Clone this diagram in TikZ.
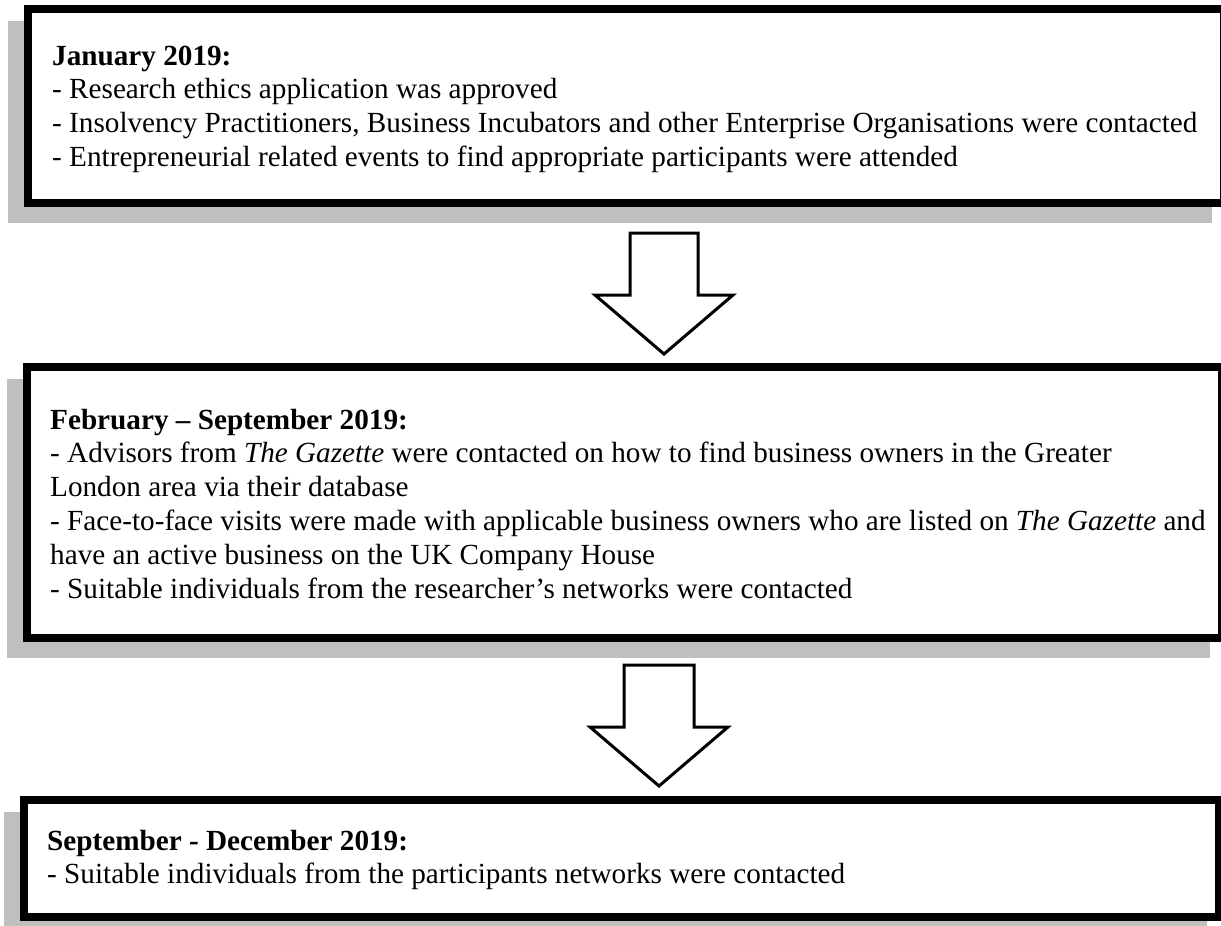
\documentclass[tikz,border=0pt]{standalone}
\usepackage{fontspec}
\setmainfont{Liberation Serif}
\usetikzlibrary{backgrounds}
\begin{document}
\begin{tikzpicture}[x=1pt,y=-1pt,
  stage/.style={draw, line width=8pt, fill=white, outer sep=4pt, inner sep=0pt},
  shade/.style={fill=black!25},
  % the base anchor of a multi-line node sits on its last line
  stagetext/.style={anchor=base west, align=left, inner sep=0pt,
    font=\fontsize{29.2}{33.8}\selectfont},
  blockarrow/.style={draw, line width=3pt, fill=white, miter limit=10}]
\useasboundingbox (0,0) rectangle (1221,926);

% stage boxes
\node[stage, minimum width=1196pt, minimum height=194pt] (b1) at (626,106) {};
\node[stage, minimum width=1195pt, minimum height=271pt] (b2) at (624.5,502.5) {};
\node[stage, minimum width=1195pt, minimum height=117pt] (b3) at (621.5,858.5) {};

% grey offset shadows behind the boxes
\begin{scope}[on background layer]
  \foreach \b in {b1,b2,b3}
    \fill[shade] ([shift={(-16,16)}]\b.north west) rectangle ([shift={(-16,16)}]\b.south east);
\end{scope}

% stage texts
\node[stagetext] (t1) at (52,166.4) {\textbf{January 2019:}\\
- Research ethics application was approved\\
- Insolvency Practitioners, Business Incubators and other Enterprise Organisations were contacted\\
- Entrepreneurial related events to find appropriate participants were attended};

\node[stagetext] (t2) at (50,598) {\textbf{February – September 2019:}\\
- Advisors from \textit{The Gazette} were contacted on how to find business owners in the Greater\\
London area via their database\\
- Face-to-face visits were made with applicable business owners who are listed on \textit{The Gazette} and\\
have an active business on the UK Company House\\
- Suitable individuals from the researcher’s networks were contacted};

\node[stagetext] (t3) at (47,883.8) {\textbf{September - December 2019:}\\
- Suitable individuals from the participants networks were contacted};

% block arrows between the stages
\draw[blockarrow] (630,233) -- (698,233) -- (698,295) -- (733,295) -- (664,354)
  -- (595,295) -- (630,295) -- cycle;
\draw[blockarrow] (624,665) -- (694,665) -- (694,727) -- (728,727) -- (659,786)
  -- (590,727) -- (624,727) -- cycle;
\end{tikzpicture}
\end{document}
